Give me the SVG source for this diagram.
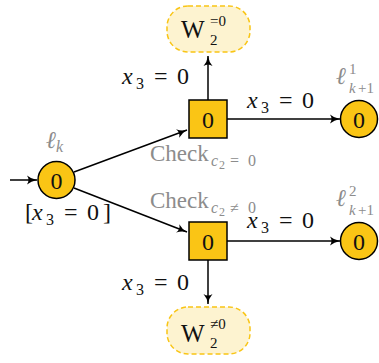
<svg xmlns="http://www.w3.org/2000/svg" width="379" height="363" viewBox="0 0 379 363">
<style>
.loc{fill:#FAC515;stroke:#000;stroke-width:1.5}
.cloud{fill:#FDF3D0;stroke:#F9C515;stroke-width:1.5;stroke-dasharray:5,3}
text{font-family:"Liberation Serif","DejaVu Serif",serif;font-size:24px;fill:#111}
.g{fill:#8c8c8c}
.s{font-size:16px}
.w{font-size:15px}
.ss{font-size:12px}
.e{stroke:#000;stroke-width:1.5;fill:none;marker-end:url(#ah)}
.i{font-style:italic}
.n{font-style:normal}
</style>
<defs>
<marker id="ah" markerWidth="12" markerHeight="10" refX="10" refY="5" orient="auto" markerUnits="userSpaceOnUse">
<path d="M0,0.5 Q4,4 10,5 Q4,6 0,9.5 Q3,5 0,0.5Z" fill="#000"/>
</marker>
</defs>
<g id="edges">
<line class="e" x1="10" y1="180" x2="37" y2="180"/>
<line class="e" x1="74" y1="172" x2="187" y2="130"/>
<line class="e" x1="74" y1="188" x2="187" y2="232"/>
<line class="e" x1="208" y1="100" x2="208" y2="56"/>
<line class="e" x1="227" y1="119" x2="340" y2="119"/>
<line class="e" x1="227" y1="241" x2="340" y2="241"/>
<line class="e" x1="208" y1="260" x2="208" y2="304"/>
</g>
<g id="lk">
<circle class="loc" cx="56.5" cy="180" r="18.5"/>
<text x="56.5" y="188.5" text-anchor="middle">0</text>
<text class="g i" x="46" y="148">ℓ<tspan class="s" x="56" y="152">k</tspan></text>
</g>
<g id="check1">
<rect class="loc" x="189" y="100" width="38" height="38"/>
<text x="208" y="127.5" text-anchor="middle">0</text>
<text class="g" x="150" y="161" style="font-size:23px">Check<tspan class="s i" x="211" y="166">c</tspan><tspan class="ss" x="219" y="169">2</tspan><tspan class="s" x="230" y="166">=</tspan><tspan class="s" x="248" y="166">0</tspan></text>
</g>
<g id="check2">
<rect class="loc" x="189" y="222" width="38" height="38"/>
<text x="208" y="249.5" text-anchor="middle">0</text>
<text class="g" x="150" y="208" style="font-size:23px">Check<tspan class="s i" x="211" y="213">c</tspan><tspan class="ss" x="219" y="216">2</tspan><tspan class="s" x="230" y="213">≠</tspan><tspan class="s" x="248" y="213">0</tspan></text>
</g>
<g id="lk1">
<circle class="loc" cx="359" cy="119" r="18.5"/>
<text x="359" y="127.5" text-anchor="middle">0</text>
<text class="g i" x="336" y="84">ℓ<tspan class="w n" x="349" y="74">1</tspan><tspan class="w" x="349" y="93">k</tspan><tspan class="w n" x="358" y="93">+1</tspan></text>
</g>
<g id="lk2">
<circle class="loc" cx="359" cy="241" r="18.5"/>
<text x="359" y="249.5" text-anchor="middle">0</text>
<text class="g i" x="336" y="206">ℓ<tspan class="w n" x="349" y="196">2</tspan><tspan class="w" x="349" y="215">k</tspan><tspan class="w n" x="358" y="215">+1</tspan></text>
</g>
<g id="w0">
<rect class="cloud" x="167" y="6" width="83" height="46" rx="21"/>
<text x="181" y="38" style="font-size:25px">W<tspan class="w" x="210" y="26">=0</tspan><tspan class="w" x="210" y="45">2</tspan></text>
</g>
<g id="wn0">
<rect class="cloud" x="167" y="307" width="83" height="47" rx="21"/>
<text x="181" y="342" style="font-size:25px">W<tspan class="w" x="210" y="329">≠0</tspan><tspan class="w" x="210" y="348">2</tspan></text>
</g>
<g id="labels">
<text x="122" y="84"><tspan class="i">x</tspan><tspan class="s" x="136" y="89">3</tspan><tspan x="154" y="84">=</tspan><tspan x="177" y="84">0</tspan></text>
<text x="247" y="108"><tspan class="i">x</tspan><tspan class="s" x="261" y="113">3</tspan><tspan x="279" y="108">=</tspan><tspan x="302" y="108">0</tspan></text>
<text x="247" y="228"><tspan class="i">x</tspan><tspan class="s" x="261" y="233">3</tspan><tspan x="279" y="228">=</tspan><tspan x="302" y="228">0</tspan></text>
<text x="122" y="290"><tspan class="i">x</tspan><tspan class="s" x="136" y="295">3</tspan><tspan x="154" y="290">=</tspan><tspan x="177" y="290">0</tspan></text>
<text x="25" y="220">[<tspan class="i" x="32">x</tspan><tspan class="s" x="46" y="225">3</tspan><tspan x="64" y="220">=</tspan><tspan x="87" y="220">0</tspan><tspan x="103" y="220">]</tspan></text>
</g>
</svg>
